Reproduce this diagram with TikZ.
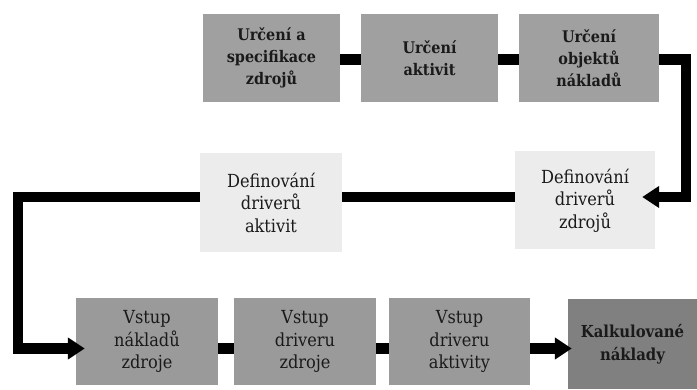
\documentclass[tikz,border=0pt]{standalone}
\usepackage{fontspec}
\setmainfont{DejaVu Serif Condensed}
\usetikzlibrary{arrows.meta}
\definecolor{boxmid}{HTML}{A0A0A0}
\definecolor{boxlow}{HTML}{9A9A9A}
\definecolor{boxlight}{HTML}{ECECEC}
\definecolor{boxdark}{HTML}{808080}
\definecolor{ink}{HTML}{1A1A1A}
\begin{document}
\begin{tikzpicture}[x=1pt,y=-1pt,
  stepbox/.style={rectangle, inner sep=0pt, align=center, text=ink,
    font=\fontsize{18}{22.5}\selectfont},
  topbox/.style={stepbox, fill=boxmid, font=\fontsize{16}{22}\selectfont\bfseries},
  midbox/.style={stepbox, fill=boxlight},
  lowbox/.style={stepbox, fill=boxlow},
  endbox/.style={stepbox, fill=boxdark, font=\fontsize{16.5}{23}\selectfont\bfseries},
  link/.style={line width=10.5pt, draw=black, line join=miter, line cap=butt},
  flow/.style={link, -{Triangle[length=17pt,width=21pt]}}]
\useasboundingbox (0,0) rectangle (697,390);
% upper row
\node[topbox, minimum width=137pt, minimum height=88pt] (b1) at (271.5,58) {Určení a\\specifikace\\zdrojů};
\node[topbox, minimum width=137pt, minimum height=88pt] (b2) at (429.5,58) {Určení\\aktivit};
\node[topbox, minimum width=140pt, minimum height=88pt] (b3) at (589,58) {Určení\\objektů\\nákladů};
% middle row
\node[midbox, minimum width=140pt, minimum height=98pt] (dz) at (585,200.5) {Definování\\driverů\\zdrojů};
\node[midbox, minimum width=142pt, minimum height=99pt] (da) at (271,202.5) {Definování\\driverů\\aktivit};
% lower row
\node[lowbox, minimum width=142pt, minimum height=87pt] (v1) at (147,341.5) {Vstup\\nákladů\\zdroje};
\node[lowbox, minimum width=142pt, minimum height=87pt] (v2) at (305,341.5) {Vstup\\driveru\\zdroje};
\node[lowbox, minimum width=141pt, minimum height=87pt] (v3) at (459.5,341.5) {Vstup\\driveru\\aktivity};
\node[endbox, minimum width=129pt, minimum height=90pt] (kn) at (632.5,344) {Kalkulované\\náklady};
% bends of the return paths
\coordinate (r1) at (686,59.5);
\coordinate (r2) at (686,197);
\coordinate (l1) at (18,197);
\coordinate (l2) at (18,348.5);
% connectors
\draw[link] (b1.east |- r1) -- (b2.west |- r1);
\draw[link] (b2.east |- r1) -- (b3.west |- r1);
\draw[flow, shorten >=-13pt] (b3.east |- r1) -- (r1) -- (r2) -- (dz.east |- r2);
\draw[link] (da.east |- r2) -- (dz.west |- r2);
\draw[flow, shorten >=-9pt] (da.west |- l1) -- (l1) -- (l2) -- (v1.west |- l2);
\draw[link] (v1.east |- l2) -- (v2.west |- l2);
\draw[link] (v2.east |- l2) -- (v3.west |- l2);
\draw[flow, shorten >=-4pt] (v3.east |- l2) -- (kn.west |- l2);
\end{tikzpicture}
\end{document}
